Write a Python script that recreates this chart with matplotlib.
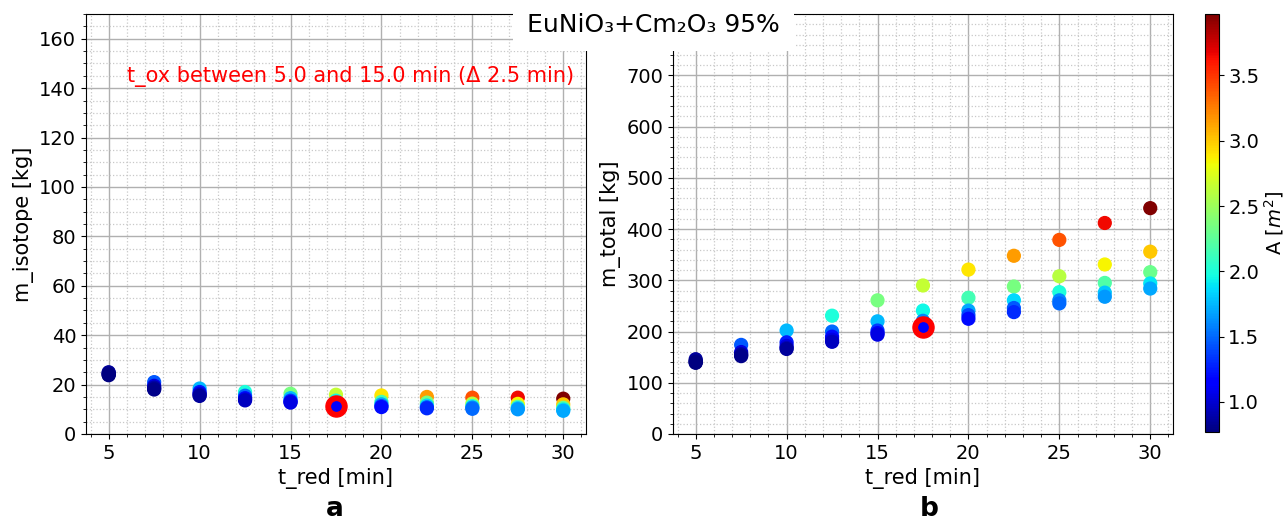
"""
Scatter of isotope / total mass vs reduction time, coloured by area A.
"""
import numpy as np
import matplotlib
matplotlib.use("Agg")
import matplotlib.pyplot as plt

##################################################
#-----------------Data----------
##################################################

t_red = [5, 7.5, 10, 12.5, 15, 17.5, 20, 22.5, 25, 27.5, 30]

# one row per t_ox value, highest A first
area = [
    [0.86, 1.45, 1.75, 2.00, 2.35, 2.65, 2.90, 3.15, 3.40, 3.65, 3.97],
    [0.84, 1.05, 1.25, 1.50, 1.75, 1.95, 2.15, 2.35, 2.60, 2.85, 3.00],
    [0.80, 0.90, 1.05, 1.20, 1.35, 1.60, 1.70, 1.85, 2.00, 2.20, 2.30],
    [0.78, 0.85, 0.95, 1.05, 1.15, 1.30, 1.40, 1.45, 1.60, 1.80, 1.90],
    [0.77, 0.80, 0.85, 0.95, 1.05, 1.15, 1.20, 1.30, 1.50, 1.65, 1.70],
]

m_total = [
    [146, 174, 202, 231, 261, 290, 321, 348, 379, 412, 441],
    [143, 160, 179, 200, 220, 241, 266, 288, 308, 331, 356],
    [141, 156, 172, 190, 202, 221, 241, 261, 277, 295, 316],
    [140, 154, 168, 184, 197, 212, 232, 246, 261, 276, 294],
    [139, 152, 166, 180, 194, 208, 225, 238, 255, 268, 284],
]

m_isotope = [
    [25.0, 21.0, 18.4, 17.0, 16.3, 15.9, 15.6, 15.0, 14.7, 14.7, 14.3],
    [24.7, 19.5, 17.0, 15.5, 14.5, 13.5, 13.0, 12.7, 12.3, 12.2, 12.0],
    [24.3, 18.8, 16.3, 14.5, 13.5, 12.5, 12.0, 11.5, 11.3, 11.0, 10.6],
    [24.0, 18.3, 15.8, 14.0, 13.0, 12.0, 11.3, 10.8, 10.7, 10.4, 9.9],
    [23.8, 18.0, 15.4, 13.6, 12.7, 11.5, 10.9, 10.4, 10.2, 10.0, 9.4],
]

# highlighted optimum (row, column)
best = (4, 5)

##################################################
#-----------------Plotting------------------------
##################################################

fig = plt.figure(figsize=(12.87, 5.2), dpi=100)
ax1 = fig.add_axes([0.0668, 0.1654, 0.3885, 0.8076])
ax2 = fig.add_axes([0.5229, 0.1654, 0.3885, 0.8076])
cax = fig.add_axes([0.9363, 0.1692, 0.0105, 0.8038])

x_all = np.tile(t_red, len(area))
a_all = np.ravel(area)
vmin, vmax = a_all.min(), a_all.max()

def draw(ax, y, ylabel, ylim, yticks):
    y_all = np.ravel(y)
    # plot lowest A on top so stacks look like the original
    order = np.argsort(-a_all)
    sc = ax.scatter(x_all[order], y_all[order], c=a_all[order], cmap="jet",
                    vmin=vmin, vmax=vmax, s=85, zorder=3)
    i, j = best
    ax.scatter(t_red[j], y[i][j], s=230, color="red", zorder=4)
    ax.scatter(t_red[j], y[i][j], s=45, c=[area[i][j]], cmap="jet",
               vmin=vmin, vmax=vmax, zorder=5)
    ax.set_xlim(3.75, 31.25)
    ax.set_ylim(*ylim)
    ax.set_xticks([5, 10, 15, 20, 25, 30])
    ax.set_yticks(yticks)
    ax.minorticks_on()
    ax.grid(which="major", color="#b0b0b0", linewidth=1.0)
    ax.grid(which="minor", color="#c8c8c8", linestyle=":", linewidth=0.9)
    ax.set_axisbelow(True)
    ax.tick_params(labelsize=14)
    ax.set_xlabel("t_red [min]", fontsize=15)
    ax.set_ylabel(ylabel, fontsize=15)
    return sc

sc = draw(ax1, m_isotope, "m_isotope [kg]", (0, 170), range(0, 161, 20))
# 800 line sits under the title box, so only label up to 700
draw(ax2, m_total, "m_total [kg]", (0, 820), range(0, 701, 100))

ax1.text(0.082, 0.852, "t_ox between 5.0 and 15.0 min (\u0394 2.5 min)",
         transform=ax1.transAxes, color="red", fontsize=15, va="center")

cb = fig.colorbar(sc, cax=cax)
cb.set_ticks([1.0, 1.5, 2.0, 2.5, 3.0, 3.5])
cb.ax.tick_params(labelsize=14)
cb.set_label("A [$m^2$]", fontsize=14, labelpad=2)

fig.text(0.5075, 0.952, "EuNiO\u2083+Cm\u2082O\u2083 95%", fontsize=18,
         ha="center", va="center",
         bbox=dict(facecolor="white", edgecolor="none", pad=10))

fig.text(0.260, 0.008, "a", fontsize=19, fontweight="bold", ha="center")
fig.text(0.722, 0.008, "b", fontsize=19, fontweight="bold", ha="center")

fig.savefig("out.png", dpi=100)
